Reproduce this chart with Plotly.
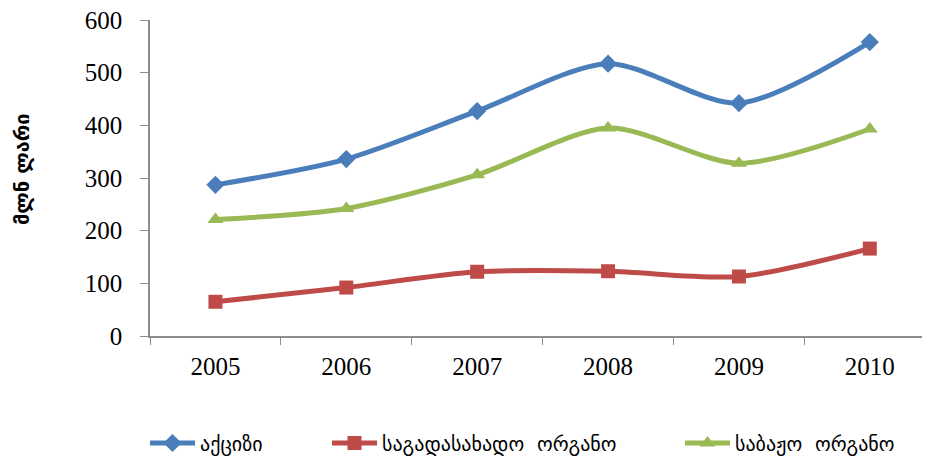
import plotly.graph_objects as go

years = ["2005", "2006", "2007", "2008", "2009", "2010"]
excise = [287, 336, 427, 517, 442, 558]
tax_authority = [65, 92, 122, 123, 113, 166]
customs_authority = [221, 242, 306, 395, 328, 393]

names = ["აქციზი", "საგადასახადო  ორგანო", "საბაჟო  ორგანო"]
y_title = "მლნ ლარი"
colors = ["#4A7EBB", "#BE4B48", "#98B954"]
symbols = ["diamond", "square", "triangle-up"]
series = [excise, tax_authority, customs_authority]
legends = ["legend", "legend2", "legend3"]
legend_text_px = [198, 380, 733]  # page x where legend text begins

# page has an 8px body margin: figure pixels = page pixels - 8
OFF = 8
W, H = 930 - OFF, 456 - OFF
L, R, T = 150 - OFF, 0, 20 - OFF
B = H - (336 - OFF)
PW, PH = W - L - R, H - T - B


def px_x(p):
    return (p - OFF - L) / PW


def px_y(p):
    return 1 - (p - OFF - T) / PH


fig = go.Figure()
for s, n, c, sym, lg in zip(series, names, colors, symbols, legends):
    fig.add_trace(go.Scatter(
        x=years, y=s, name=n, mode="lines+markers",
        line=dict(color=c, width=5, shape="spline", smoothing=0.8),
        marker=dict(symbol=sym, size=14, color=c),
        legend=lg, showlegend=True,
    ))

lfont = dict(family="DejaVu Sans, Noto Sans Georgian, sans-serif", size=20, color="#000")
ITEMW = 45
layout_legends = {}
for lg, tx in zip(legends, legend_text_px):
    layout_legends[lg] = dict(
        x=px_x(tx - (ITEMW + 8)), y=px_y(443), xref="paper", yref="paper",
        xanchor="left", yanchor="middle",
        orientation="h", font=lfont, bgcolor="rgba(0,0,0,0)",
        itemwidth=ITEMW, visible=True,
    )

tickfont = dict(family="Liberation Serif, Times New Roman, serif", size=25, color="#000")
fig.update_layout(
    width=W, height=H, showlegend=True,
    margin=dict(l=L, r=R, t=T, b=B, autoexpand=False),
    plot_bgcolor="white", paper_bgcolor="white",
    xaxis=dict(
        type="category", range=[-0.5, 5.46],
        showline=True, linecolor="#8C8C8C", linewidth=1.5,
        showgrid=False, ticks="outside", ticklen=7, tickcolor="#8C8C8C",
        tickson="boundaries", ticklabelstandoff=7,
        tickfont=tickfont,
    ),
    yaxis=dict(
        range=[0, 600], dtick=100,
        showline=True, linecolor="#8C8C8C", linewidth=1.5,
        showgrid=False, ticks="outside", ticklen=8, tickcolor="#8C8C8C",
        zeroline=False, ticklabelstandoff=13, ticklabeloverflow="allow",
        tickfont=tickfont,
    ),
    annotations=[dict(
        text="<b>" + y_title + "</b>", textangle=-90,
        x=px_x(22), y=px_y(170), xref="paper", yref="paper",
        xanchor="center", yanchor="middle", showarrow=False,
        font=dict(family="DejaVu Sans, sans-serif", size=20, color="#000"),
    )],
    **layout_legends,
)

fig.write_html("out.html")
